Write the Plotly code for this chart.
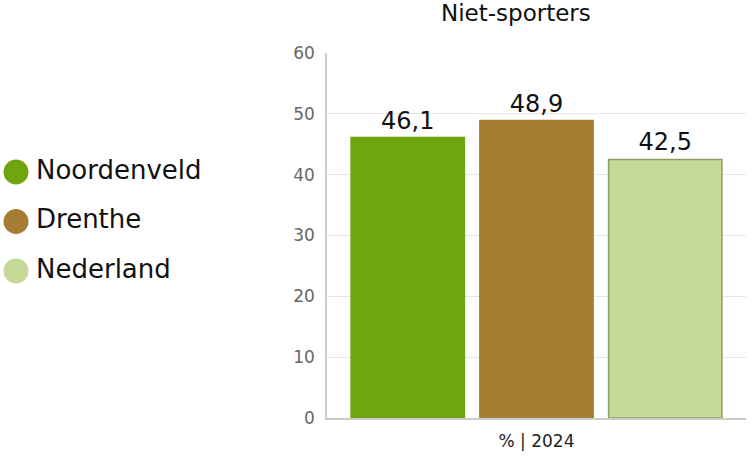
import plotly.graph_objects as go

categories = ["Noordenveld", "Drenthe", "Nederland"]
values = [46.1, 48.9, 42.5]
colors = ["#6fa50e", "#a57e33", "#c5d999"]
borders = ["#6fa50e", "#a57e33", "#8d9d68"]
group_label = "% | 2024"
title = "Niet-sporters"
y_ticks = [0, 10, 20, 30, 40, 50, 60]

W, H = 754, 457
L_PLOT, R_PLOT = 327, 746
FONT = "DejaVu Sans"

fig = go.Figure()
for cat, v, c, b in zip(categories, values, colors, borders):
    fig.add_trace(go.Bar(
        x=[group_label], y=[v], name=cat,
        marker=dict(color=c, line=dict(color=b, width=1.5)),
        texttemplate="%{y:.1f}", textposition="outside",
        textfont=dict(size=24, color="#111", family=FONT),
        cliponaxis=False, showlegend=False, hoverinfo="skip",
    ))

# legend drawn on a helper axis (units = pixels)
leg_y = [172 + 49.5 * i for i in range(len(categories))]
fig.add_trace(go.Scatter(
    x=[16] * len(categories), y=leg_y, mode="markers",
    marker=dict(size=25, color=colors, line=dict(width=0)),
    xaxis="x2", yaxis="y2", showlegend=False, hoverinfo="skip",
    cliponaxis=False,
))
fig.add_trace(go.Scatter(
    x=[36] * len(categories), y=leg_y, mode="text",
    text=categories, textposition="middle right",
    textfont=dict(size=26, color="#111", family=FONT),
    xaxis="x2", yaxis="y2", showlegend=False, hoverinfo="skip",
    cliponaxis=False,
))

fig.update_layout(
    width=W, height=H,
    margin=dict(l=0, r=W - R_PLOT, t=53, b=39),
    paper_bgcolor="white", plot_bgcolor="white",
    separators=",.",
    barmode="group", bargap=0.078, bargroupgap=0.12,
    showlegend=False,
    font=dict(family=FONT),
    xaxis=dict(
        domain=[L_PLOT / R_PLOT, 1],
        showline=True, linecolor="#cccccc", linewidth=1.5,
        tickfont=dict(size=17, color="#222", family=FONT),
        ticks="", showgrid=False, ticklabelstandoff=7,
    ),
    yaxis=dict(
        range=[0, 60], tickvals=y_ticks,
        showgrid=True, gridcolor="#e6e6e6", gridwidth=1,
        showline=True, linecolor="#cccccc", linewidth=1.5,
        tickfont=dict(size=17, color="#666", family=FONT),
        ticks="", ticklabelstandoff=7, zeroline=False,
    ),
    xaxis2=dict(domain=[0, 300 / R_PLOT], range=[0, 300], visible=False,
                anchor="y2", fixedrange=True),
    yaxis2=dict(domain=[0, 1], range=[418, 53], visible=False,
                anchor="x2", fixedrange=True),
    annotations=[dict(
        text=title, xref="paper", yref="paper",
        x=(516) / R_PLOT, y=1, yshift=40, xanchor="center", yanchor="middle",
        showarrow=False, font=dict(size=23, color="#111", family=FONT),
    )],
)

fig.write_html("out.html")
